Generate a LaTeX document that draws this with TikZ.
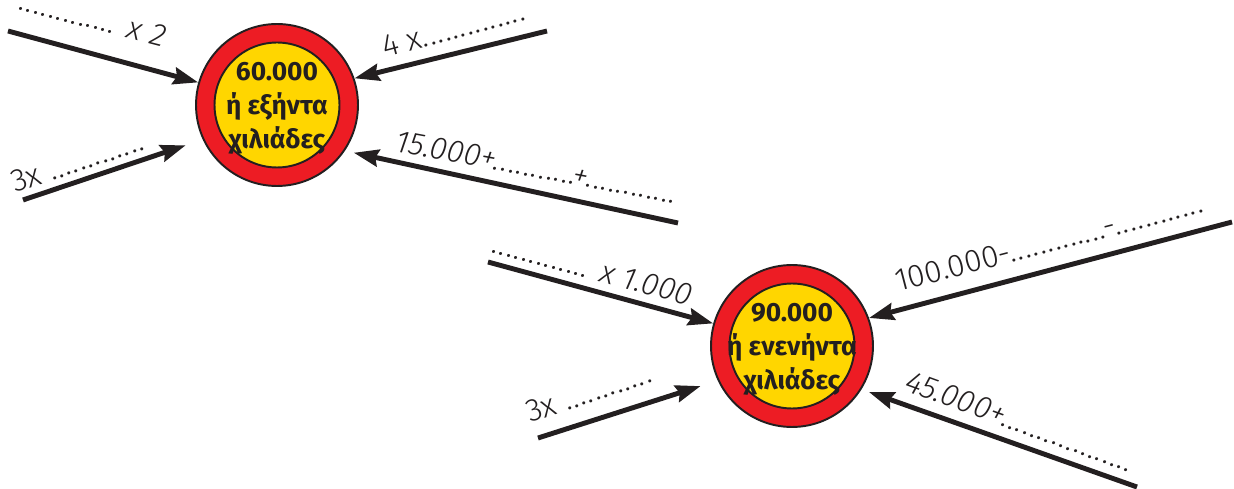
\documentclass[tikz,border=0pt]{standalone}
\usepackage{fontspec}
\setmainfont{Fira Sans}
\newfontfamily\leptafont{Fira Sans Light}
\usepackage{tikz}
\usetikzlibrary{arrows.meta}
\definecolor{kokkino}{RGB}{237,28,36}
\definecolor{kitrino}{RGB}{255,214,0}
\definecolor{mavro}{RGB}{35,31,32}
\newcount\telcount
\newcommand\teleies[1]{\telcount=0\loop.\advance\telcount by 1\ifnum\telcount<#1\kern0.65pt\repeat}

\begin{document}
\begin{tikzpicture}[
    x=0.02cm,y=-0.02cm,
    kyklos/.style={circle,draw=mavro,line width=1.1pt,fill=kokkino,minimum size=3.24cm,inner sep=0pt},
    mesa/.style={circle,draw=mavro,line width=1.1pt,fill=kitrino,minimum size=2.5cm,inner sep=0pt},
    arithmos/.style={align=center,inner sep=0pt,text=mavro,font=\bfseries\fontsize{15}{19.3}\selectfont},
    velos/.style={-{Stealth[length=0.5cm,width=0.34cm,inset=0.06cm]},line width=2.8pt,draw=mavro},
    lexi/.style={inner sep=0pt,text=mavro,font=\leptafont\fontsize{18}{20}\selectfont},
    plagia/.style={lexi,font=\leptafont\itshape\fontsize{18}{20}\selectfont}
]
\useasboundingbox (0,0) rectangle (1234,489);

% 60.000
\node[kyklos] (k1) at (277,105) {};
\node[mesa] (m1) at (k1) {};
\node[arithmos] (t1) at (277,108) {60.000\\ή εξήντα\\χιλιάδες};

\coordinate (a1) at (8,31);
\coordinate (a2) at (23,200);
\coordinate (a3) at (547,31);
\coordinate (a4) at (678,223);
\draw[velos] (a1) -- (k1.164);
\draw[velos,shorten >=0.36cm] (a2) -- (k1.205);
\draw[velos] (a3) -- (k1.19);
\draw[velos,shorten >=0.18cm] (a4) -- (k1.326);

\node[plagia,rotate=-14.5,anchor=base east] (l1) at (163,47) {\teleies{12} x 2};
\node[lexi,rotate=18.5,anchor=base west] (l2) at (15,193) {3x \teleies{12}};
\node[lexi,rotate=15,anchor=base west] (l3) at (385,58) {4 x\teleies{13}};
\node[plagia,rotate=-10.6,anchor=base west] (l4) at (394,151) {15.000+\teleies{10}\kern-2pt+\teleies{11}};

% 90.000
\node[kyklos] (k2) at (792,346) {};
\node[mesa] (m2) at (k2) {};
\node[arithmos] (t2) at (792,349) {90.000\\ή ενενήντα\\χιλιάδες};

\coordinate (b1) at (488,262);
\coordinate (b2) at (538,438);
\coordinate (b3) at (1232,222);
\coordinate (b4) at (1137,487);
\draw[velos] (b1) -- (k2.164);
\draw[velos,shorten >=0.36cm] (b2) -- (k2.205);
\draw[velos] (b3) -- (k2.20);
\draw[velos,shorten >=0.16cm] (b4) -- (k2.328);

\node[plagia,rotate=-15,anchor=base east] (l5) at (690,306) {\teleies{12} x 1.000};
\node[lexi,rotate=18.5,anchor=base west] (l6) at (530,423) {3x \teleies{11}};
\node[lexi,rotate=14.6,anchor=base west] (l7) at (898,292) {100.000-\teleies{12}-\teleies{11}};
\node[plagia,rotate=-20,anchor=base west] (l8) at (903,390) {45.000+\teleies{17}};
\end{tikzpicture}
\end{document}
